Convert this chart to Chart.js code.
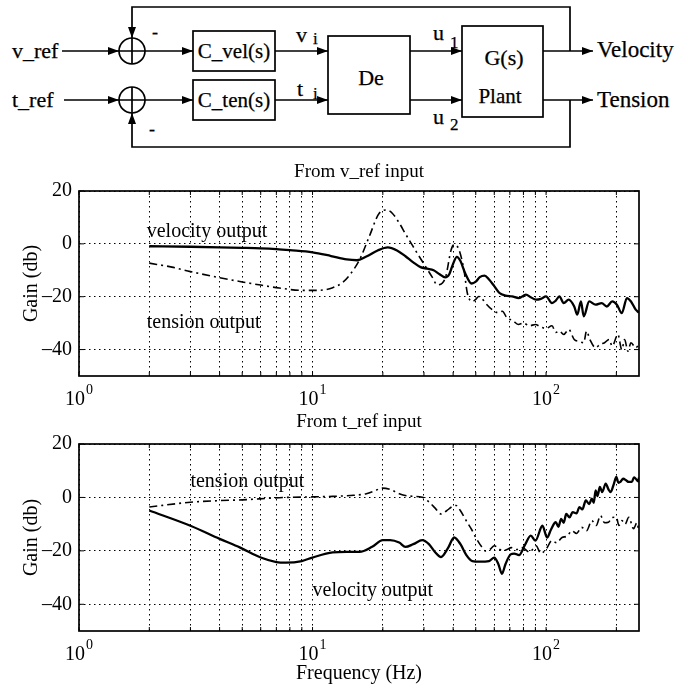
<!DOCTYPE html>
<html>
<head>
<meta charset="utf-8">
<script src="https://cdn.jsdelivr.net/npm/chart.js@4.4.1/dist/chart.umd.min.js"></script>
<style>
  html, body { margin: 0; padding: 0; background: #fff; }
  #page { position: relative; width: 684px; height: 684px; overflow: hidden; background: #fff; }
  #diagram { position: absolute; left: 0; top: 0; }
  canvas { position: absolute; left: 0; }
  #topChart { top: 155px; }
  #bottomChart { top: 410px; }
  svg text { font-family: 'Liberation Serif', 'Times New Roman', serif; fill: #000; stroke: #000; stroke-width: 0.25; }
</style>
</head>
<body>
<div id="page">
  <svg id="diagram" width="684" height="155" viewBox="0 0 684 155">
    <defs>
      <marker id="arrow" markerWidth="11" markerHeight="8" refX="11" refY="4" orient="auto" markerUnits="userSpaceOnUse">
        <path d="M0,0 L11,4 L0,8 z" fill="#000"/>
      </marker>
    </defs>
    <g stroke="#000" stroke-width="1.7" fill="none">
      <path d="M62,51 H119" marker-end="url(#arrow)"/>
      <path d="M64,100 H119" marker-end="url(#arrow)"/>
      <circle cx="132" cy="51" r="13"/>
      <path d="M132,38 V64 M119,51 H145"/>
      <circle cx="132" cy="100" r="13"/>
      <path d="M132,87 V113 M119,100 H145"/>
      <path d="M145,51 H193" marker-end="url(#arrow)"/>
      <path d="M145,100 H193" marker-end="url(#arrow)"/>
      <rect x="193" y="31" width="82" height="40"/>
      <rect x="193" y="80" width="82" height="40"/>
      <path d="M275,51 H328" marker-end="url(#arrow)"/>
      <path d="M275,100 H328" marker-end="url(#arrow)"/>
      <rect x="328" y="36" width="82" height="78"/>
      <path d="M410,51 H462" marker-end="url(#arrow)"/>
      <path d="M410,100 H462" marker-end="url(#arrow)"/>
      <rect x="462" y="26" width="81" height="91"/>
      <path d="M543,51 H593" marker-end="url(#arrow)"/>
      <path d="M543,100 H593" marker-end="url(#arrow)"/>
      <path d="M570,51 V7 H132 V38" marker-end="url(#arrow)"/>
      <path d="M570,100 V147 H132 V113" marker-end="url(#arrow)"/>
    </g>
    <text x="12" y="58" font-size="22">v_ref</text>
    <text x="12" y="107" font-size="22">t_ref</text>
    <text x="152" y="38" font-size="18">-</text>
    <text x="149" y="135" font-size="18">-</text>
    <text x="234" y="58" font-size="21" text-anchor="middle">C_vel(s)</text>
    <text x="234" y="107" font-size="21" text-anchor="middle">C_ten(s)</text>
    <text x="296" y="42" font-size="22">v</text>
    <text x="313" y="44" font-size="17">i</text>
    <text x="297" y="96" font-size="22">t</text>
    <text x="313" y="99" font-size="17">i</text>
    <text x="371" y="85" font-size="22" text-anchor="middle">De</text>
    <text x="433" y="40" font-size="22">u</text>
    <text x="450" y="48" font-size="17">1</text>
    <text x="433" y="124" font-size="22">u</text>
    <text x="450" y="130" font-size="17">2</text>
    <text x="504" y="65" font-size="22" text-anchor="middle">G(s)</text>
    <text x="500" y="103" font-size="21" text-anchor="middle">Plant</text>
    <text x="597" y="57" font-size="23">Velocity</text>
    <text x="597" y="107" font-size="23">Tension</text>
  </svg>
  <canvas id="topChart" width="684" height="255"></canvas>
  <canvas id="bottomChart" width="684" height="274"></canvas>
</div>
<script>
const SERIF = "'Liberation Serif', 'Times New Roman', serif";

// axes
const xGridTicks = [1, 2, 3, 4, 5, 6, 7, 8, 9, 10, 20, 30, 40, 50, 60, 70, 80, 90, 100, 200];
const decadeTicks = [1, 10, 100];
const decadeExponents = ['0', '1', '2'];
const gainTicks = [-40, -20, 0, 20];

// From v_ref input: velocity output (solid)
const vrefVelFreq = [2, 3, 4, 5, 6, 7, 8, 10, 12, 14, 15.5, 17, 19, 21, 23, 25, 27, 29, 31, 33, 35, 37, 38.5, 40, 41.5, 43, 45, 48, 50, 52, 54.5, 57, 60, 63, 67, 71.5, 76.5, 82, 86, 90.5, 95, 100, 106, 110, 114, 119, 125, 132, 136, 141, 145, 153, 163, 173, 182, 192, 201, 211, 222, 231, 242, 250];
const vrefVelGain = [-0.9, -1.1, -1.3, -1.5, -1.7, -2.0, -2.4, -3.2, -4.6, -5.9, -6.2, -4.8, -2.5, -1.3, -2.5, -4.7, -7.0, -8.8, -9.4, -10.0, -11.5, -12.7, -11.5, -7.5, -4.9, -6.5, -11.0, -15.0, -14.3, -12.6, -12.0, -13.5, -16.0, -18.5, -19.6, -19.9, -20.5, -19.2, -20.2, -21.1, -20.8, -19.9, -22.4, -21.5, -19.9, -22.4, -21.1, -23.7, -26.8, -21.8, -27.4, -21.8, -23.0, -22.4, -23.7, -21.8, -23.0, -26.2, -20.5, -21.8, -24.9, -26.0];

// From v_ref input: tension output (dash-dot)
const vrefTenFreq = [2, 2.5, 3, 4, 5, 6, 7.2, 9, 10.5, 12.2, 13.5, 14.5, 15.9, 17.5, 19.3, 20.8, 22, 23.5, 25, 26.7, 28.5, 30.5, 32.5, 34.2, 36, 37.2, 39.2, 40.4, 41.5, 42.4, 44.5, 46, 48.3, 50, 51.5, 53, 55, 58.8, 62, 65, 68, 72, 76, 80, 85, 90, 95, 100, 106, 110, 114, 119, 125, 132, 138, 145, 149, 154, 163, 170, 178, 186, 192, 203, 211, 217, 224, 231, 242, 250];
const vrefTenGain = [-7.3, -8.8, -10.5, -12.8, -14.4, -15.6, -16.7, -17.6, -17.6, -16.6, -14.5, -11.5, -6.0, 2.8, 11.6, 12.8, 11.5, 7.9, 3.8, -0.4, -4.5, -8.6, -12.5, -15.5, -14.8, -12.3, -2.3, -0.3, -0.8, -2.3, -9.8, -18.6, -21.8, -21.0, -19.9, -20.5, -22.4, -24.9, -26.0, -25.5, -28.0, -29.0, -30.5, -30.0, -31.0, -30.5, -31.5, -32.0, -31.0, -33.5, -33.0, -34.3, -32.4, -36.2, -36.9, -37.4, -33.0, -36.2, -39.3, -38.1, -37.4, -36.2, -38.7, -34.3, -40.0, -36.2, -40.6, -37.4, -39.3, -38.0];

// From t_ref input: tension output (dash-dot)
const trefTenFreq = [2, 3, 4, 5, 7.2, 10, 12.2, 15, 17, 18.5, 19.9, 21.5, 23.5, 26, 29.5, 31.6, 33.5, 35.5, 37.5, 39.5, 41.2, 43, 45.5, 48, 50, 53, 55, 57.5, 60, 62.5, 65, 68, 71, 75, 79, 85, 90.6, 95, 100, 106, 111, 117, 123, 129, 135, 142, 149, 157, 164, 171, 178, 185, 192, 200, 205, 211, 218, 226, 237, 245, 250];
const trefTenGain = [-3.6, -1.8, -1.2, -0.9, -0.1, 0.2, 0.4, 0.8, 1.4, 2.5, 3.5, 3.0, 1.4, 0.5, 0.1, -1.8, -4.0, -6.2, -5.0, -3.5, -3.0, -5.0, -8.7, -12.0, -15.0, -18.5, -20.0, -19.5, -18.1, -19.0, -20.0, -19.5, -18.8, -19.5, -18.8, -20.5, -18.1, -21.0, -19.4, -16.2, -17.0, -15.0, -14.5, -12.5, -13.5, -11.2, -12.5, -8.7, -10.5, -6.8, -9.5, -9.3, -7.5, -7.4, -10.5, -8.7, -10.0, -7.4, -11.7, -9.5, -13.0];

// From t_ref input: velocity output (solid)
const trefVelFreq = [2, 3, 4, 4.9, 6, 7, 7.7, 9, 10, 12.2, 14, 15.9, 18, 20, 21.5, 23.5, 25, 27, 29.5, 31.5, 33.5, 35.5, 38, 40.4, 43, 45.5, 48.3, 52, 57, 60, 62.5, 64.7, 67, 70.5, 73, 76.6, 81, 86, 90, 96.5, 101, 105, 110, 113, 116, 119, 122, 126, 130, 135, 139, 143, 148, 153, 157, 160, 163, 166, 170, 174, 180, 185, 189, 195, 200, 204, 208, 214, 220, 226, 233, 238, 242, 248, 250];
const trefVelGain = [-4.9, -10.6, -15.5, -18.8, -22.5, -24.2, -24.4, -23.8, -22.5, -20.6, -20.4, -20.4, -18.5, -16.0, -16.0, -16.9, -18.5, -17.5, -16.0, -17.5, -20.5, -22.3, -19.0, -15.0, -17.5, -21.5, -23.8, -24.0, -23.8, -22.5, -25.0, -28.6, -25.0, -21.3, -21.0, -21.6, -18.0, -14.3, -16.2, -10.6, -15.0, -12.0, -9.3, -11.0, -8.0, -9.5, -6.2, -7.5, -5.5, -6.0, -3.6, -4.5, -1.1, -2.5, -0.5, -2.0, 2.6, 0.5, 3.9, 2.0, 5.2, 3.0, 2.0, 5.0, 7.7, 5.5, 5.8, 7.0, 6.4, 5.8, 5.8, 7.5, 7.0, 6.0, 7.5];

// curve labels inside the plots
const vrefNoteText = ['velocity output', 'tension output'];
const vrefNoteFreq = [1.95, 1.95];
const vrefNoteGain = [4.5, -29.8];
const trefNoteText = ['tension output', 'velocity output'];
const trefNoteFreq = [3.0, 10.0];
const trefNoteGain = [5.7, -35.1];

function toPoints(freq, gain) {
  return freq.map((f, i) => ({ x: f, y: gain[i] }));
}

function solid(freq, gain) {
  return {
    data: toPoints(freq, gain),
    borderColor: '#000',
    borderWidth: 2.3,
    pointRadius: 0,
    cubicInterpolationMode: 'monotone',
  };
}

function dashDot(freq, gain) {
  return {
    data: toPoints(freq, gain),
    borderColor: '#000',
    borderWidth: 1.6,
    borderDash: [8, 4, 2, 4],
    pointRadius: 0,
    cubicInterpolationMode: 'monotone',
  };
}

function makeChart(id, cfg) {
  const framePlugin = {
    id: 'frame',
    afterDraw(chart) {
      const { ctx, chartArea: a, scales } = chart;
      ctx.save();
      ctx.strokeStyle = '#000';
      ctx.lineWidth = 1.7;
      ctx.strokeRect(a.left, a.top, a.right - a.left, a.bottom - a.top);

      // small inward tick marks on all four sides
      ctx.lineWidth = 1;
      ctx.beginPath();
      xGridTicks.forEach((v) => {
        const px = scales.x.getPixelForValue(v);
        ctx.moveTo(px, a.top);
        ctx.lineTo(px, a.top + 4);
        ctx.moveTo(px, a.bottom);
        ctx.lineTo(px, a.bottom - 4);
      });
      gainTicks.forEach((v) => {
        const py = scales.y.getPixelForValue(v);
        ctx.moveTo(a.left, py);
        ctx.lineTo(a.left + 5, py);
        ctx.moveTo(a.right, py);
        ctx.lineTo(a.right - 5, py);
      });
      ctx.stroke();

      ctx.fillStyle = '#000';
      ctx.textBaseline = 'middle';

      // panel title, centred over the plot area
      ctx.textAlign = 'center';
      ctx.font = '19px ' + SERIF;
      ctx.fillText(cfg.title, (a.left + a.right) / 2, a.top - cfg.titleGap);

      // decade labels with superscript exponents
      ctx.textAlign = 'left';
      decadeTicks.forEach((v, i) => {
        const px = scales.x.getPixelForValue(v);
        ctx.font = '20px ' + SERIF;
        const wBase = ctx.measureText('10').width;
        ctx.font = '14px ' + SERIF;
        const wExp = ctx.measureText(decadeExponents[i]).width;
        const left = px - (wBase + wExp + 1) / 2;
        ctx.font = '20px ' + SERIF;
        ctx.fillText('10', left, a.bottom + 24);
        ctx.font = '14px ' + SERIF;
        ctx.fillText(decadeExponents[i], left + wBase + 1, a.bottom + 14);
      });

      ctx.font = '20px ' + SERIF;
      cfg.noteText.forEach((t, i) => {
        ctx.fillText(t, scales.x.getPixelForValue(cfg.noteFreq[i]), scales.y.getPixelForValue(cfg.noteGain[i]));
      });
      ctx.restore();
    },
  };

  return new Chart(document.getElementById(id), {
    type: 'line',
    data: { datasets: cfg.datasets },
    options: {
      animation: false,
      responsive: false,
      layout: { padding: { left: 0, right: 45, top: cfg.topPad, bottom: 0 } },
      plugins: {
        legend: { display: false },
        tooltip: { enabled: false },
      },
      scales: {
        x: {
          type: 'logarithmic',
          min: 1,
          max: 250,
          afterBuildTicks(scale) {
            scale.ticks = xGridTicks.map((v) => ({ value: v }));
          },
          afterFit(scale) {
            scale.height = cfg.xAxisHeight;
          },
          ticks: { autoSkip: false, maxRotation: 0, callback: () => '' },
          grid: { color: '#000', lineWidth: 1, drawTicks: false },
          border: { display: false, dash: [1.5, 3.5] },
          title: {
            display: !!cfg.xTitle,
            text: cfg.xTitle || '',
            color: '#000',
            font: { family: SERIF, size: 20, lineHeight: 1.0 },
            padding: { top: 0, bottom: 0 },
          },
        },
        y: {
          min: -50,
          max: 20,
          afterBuildTicks(scale) {
            scale.ticks = gainTicks.map((v) => ({ value: v }));
          },
          afterFit(scale) {
            scale.width = 79;
          },
          ticks: {
            color: '#000',
            padding: 7,
            font: { family: SERIF, size: 20 },
            callback: (v) => (v < 0 ? '\u2013' + -v : String(v)),
          },
          grid: { color: '#000', lineWidth: 1, drawTicks: false },
          border: { display: false, dash: [1.5, 3.5] },
          title: {
            display: true,
            text: 'Gain (db)',
            color: '#000',
            font: { family: SERIF, size: 20 },
            padding: { top: 20, bottom: 20 },
          },
        },
      },
    },
    plugins: [framePlugin],
  });
}

makeChart('topChart', {
  title: 'From v_ref input',
  topPad: 36,
  titleGap: 19,
  xAxisHeight: 34,
  datasets: [solid(vrefVelFreq, vrefVelGain), dashDot(vrefTenFreq, vrefTenGain)],
  noteText: vrefNoteText,
  noteFreq: vrefNoteFreq,
  noteGain: vrefNoteGain,
});

makeChart('bottomChart', {
  title: 'From t_ref input',
  topPad: 34,
  titleGap: 22,
  xAxisHeight: 53,
  xTitle: 'Frequency (Hz)',
  datasets: [dashDot(trefTenFreq, trefTenGain), solid(trefVelFreq, trefVelGain)],
  noteText: trefNoteText,
  noteFreq: trefNoteFreq,
  noteGain: trefNoteGain,
});
</script>
</body>
</html>
